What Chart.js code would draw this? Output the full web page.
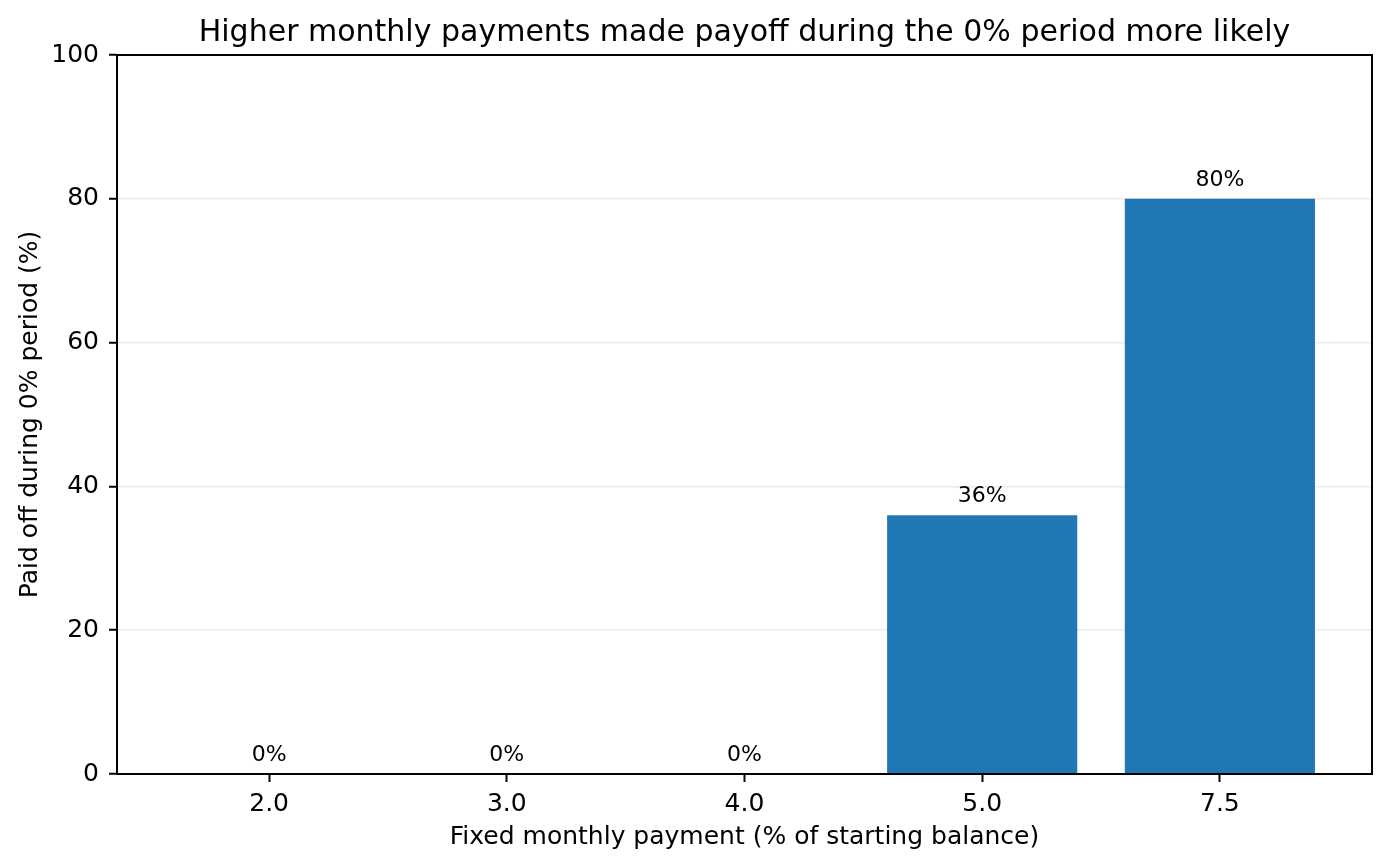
<!DOCTYPE html>
<html>
<head>
<meta charset="utf-8">
<title>Payoff during 0% period</title>
<script src="https://cdn.jsdelivr.net/npm/chart.js@4/dist/chart.umd.min.js"></script>
<style>
  html, body { margin: 0; padding: 0; background: #fff; }
  #wrap { width: 1389px; height: 868px; }
</style>
</head>
<body>
<div id="wrap"><canvas id="barChart" width="1389" height="868"></canvas></div>
<script>
// values
const paymentLabels = ['2.0', '3.0', '4.0', '5.0', '7.5'];
const paidOffPct = [0, 0, 0, 36, 80];
const yTicks = [0, 20, 40, 60, 80, 100];

const titleText = 'Higher monthly payments made payoff during the 0% period more likely';
const FONT = "'DejaVu Sans', sans-serif";

// title centred over the plot area, like matplotlib does
const titlePlugin = {
    id: 'plotTitle',
    afterDraw(chart) {
        const { ctx, chartArea } = chart;
        ctx.save();
        ctx.font = '30px ' + FONT;
        ctx.fillStyle = '#000';
        ctx.textAlign = 'center';
        ctx.textBaseline = 'alphabetic';
        ctx.fillText(titleText, (chartArea.left + chartArea.right) / 2, chartArea.top - 14);
        ctx.restore();
    }
};

// full box around the axes
const framePlugin = {
    id: 'frame',
    afterDraw(chart) {
        const { ctx, chartArea } = chart;
        ctx.save();
        ctx.strokeStyle = '#000';
        ctx.lineWidth = 2;
        ctx.strokeRect(chartArea.left, chartArea.top, chartArea.right - chartArea.left, chartArea.bottom - chartArea.top);
        ctx.restore();
    }
};

// "NN%" over each bar
const valueLabels = {
    id: 'valueLabels',
    afterDatasetsDraw(chart) {
        const { ctx } = chart;
        const meta = chart.getDatasetMeta(0);
        ctx.save();
        ctx.font = '22px ' + FONT;
        ctx.fillStyle = '#000';
        ctx.textAlign = 'center';
        ctx.textBaseline = 'alphabetic';
        meta.data.forEach((bar, i) => {
            ctx.fillText(paidOffPct[i] + '%', bar.x, bar.y - 13);
        });
        ctx.restore();
    }
};

const data = {
    datasets: [{
        label: 'Paid off during 0% period (%)',
        backgroundColor: '#1f77b4',
        borderWidth: 0,
        categoryPercentage: 0.8,
        barPercentage: 1.0,
        data: paidOffPct.map((v, i) => ({ x: i, y: v })),
    }]
};

const config = {
    type: 'bar',
    data,
    options: {
        responsive: false,
        animation: false,
        devicePixelRatio: 1,
        layout: { padding: { top: 55, right: 17, left: 0, bottom: 0 } },
        plugins: {
            legend: { display: false },
            title: { display: false },
            tooltip: { enabled: false }
        },
        scales: {
            x: {
                type: 'linear',
                min: -0.64,
                max: 4.64,
                offset: false,
                afterBuildTicks(scale) {
                    scale.ticks = paymentLabels.map((l, i) => ({ value: i }));
                },
                afterFit(scale) { scale.height = 94; },
                border: { display: true, color: '#000', width: 2 },
                grid: {
                    offset: false,
                    drawOnChartArea: false,
                    tickColor: '#000',
                    tickWidth: 2,
                    tickLength: 8
                },
                ticks: {
                    color: '#000',
                    font: { family: FONT, size: 25 },
                    padding: 7,
                    maxRotation: 0,
                    autoSkip: false,
                    callback: (v) => paymentLabels[v]
                },
                title: {
                    display: true,
                    text: 'Fixed monthly payment (% of starting balance)',
                    color: '#000',
                    font: { family: FONT, size: 25 },
                    padding: { top: 0, bottom: 16 }
                }
            },
            y: {
                min: 0,
                max: 100,
                afterBuildTicks(scale) {
                    scale.ticks = yTicks.map(v => ({ value: v }));
                },
                afterFit(scale) { scale.width = 117; },
                border: { display: true, color: '#000', width: 2 },
                grid: {
                    color: (ctx) => (ctx.tick && (ctx.tick.value === 0 || ctx.tick.value === 100)) ? 'rgba(0,0,0,0)' : 'rgba(0,0,0,0.08)',
                    lineWidth: 1.5,
                    tickColor: '#000',
                    tickWidth: 2,
                    tickLength: 8
                },
                ticks: {
                    color: '#000',
                    font: { family: FONT, size: 25 },
                    padding: 10
                },
                title: {
                    display: true,
                    text: 'Paid off during 0% period (%)',
                    color: '#000',
                    font: { family: FONT, size: 25 },
                    padding: { top: 15, bottom: 0 }
                }
            }
        }
    },
    plugins: [titlePlugin, framePlugin, valueLabels]
};

let chart;
window.addEventListener('load', function () {
    chart = new Chart(document.getElementById('barChart').getContext('2d'), config);
});
</script>
</body>
</html>
